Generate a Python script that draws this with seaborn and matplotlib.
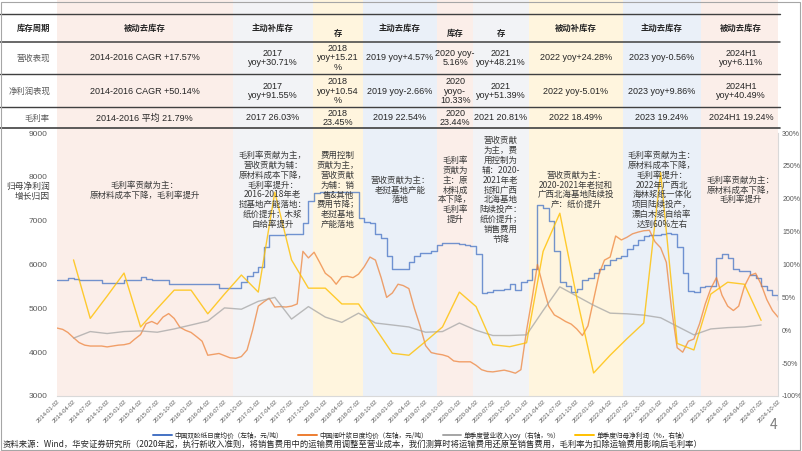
import numpy as np
import pandas as pd
import matplotlib.pyplot as plt
import matplotlib.dates as mdates
from matplotlib.patches import Rectangle
import seaborn as sns

# ── Data ───────────────────────────────────────────────
months = pd.date_range('2014-01-01', periods=130, freq='MS') + pd.Timedelta(days=1)
quarters = pd.date_range('2014-01-01', periods=44, freq='QS') + pd.Timedelta(days=1)
q_dates = quarters[1:43]

# 中国双胶纸日度均价 (元/吨), monthly reading
paper_price = [5650, 5650, 5690, 5670, 5650, 5650, 5650, 5650, 5580, 5580,
               5580, 5580, 5650, 5650, 5650, 5720, 5660, 5650, 5650, 5650,
               5550, 5550, 5550, 5550, 5550, 5550, 5550, 5550, 5550, 5460,
               5460, 5460, 5460, 5600, 5740, 5830, 5950, 6400, 6670, 6670,
               6680, 6690, 6700, 6700, 6950, 7450, 7620, 7650, 7650, 7650,
               7650, 7650, 7650, 7650, 7050, 6980, 6950, 6700, 6600, 6200,
               5900, 5900, 5900, 6050, 6200, 6260, 6260, 6300, 6450, 6490,
               6490, 6480, 6470, 6450, 6420, 6250, 5350, 5380, 5420, 5420,
               5450, 5550, 5420, 5600, 5650, 5900, 7350, 7300, 7000, 6300,
               5600, 5500, 5380, 5450, 5650, 5700, 5800, 5900, 6000, 6100,
               6150, 6200, 6350, 6450, 6550, 6650, 6680, 6680, 6700, 6720,
               6700, 6400, 5800, 5400, 5380, 5480, 5500, 5520, 6150, 6250,
               6150, 5900, 5850, 5850, 5750, 5700, 5500, 5420, 5300, 5200]

# 中国阔叶浆日度均价 (元/吨), monthly reading
pulp_price = [4550, 4520, 4450, 4330, 4220, 4160, 4140, 4140, 4140, 4120,
              4140, 4160, 4170, 4200, 4300, 4400, 4650, 4700, 4640, 4800,
              4880, 4770, 4570, 4500, 4450, 4350, 4250, 3930, 3950, 3970,
              3920, 3870, 3860, 3900, 4050, 4500, 5050, 5150, 5230, 5030,
              5040, 5030, 5050, 5100, 6300, 6150, 6280, 6050, 5800, 5700,
              5550, 5720, 5730, 5700, 5780, 5950, 6170, 6100, 5700, 5250,
              5350, 5550, 5520, 5450, 5000, 4600, 4150, 3990, 3960, 3940,
              3900, 3800, 3780, 3780, 3780, 3700, 3600, 3560, 3550, 3570,
              3590, 3560, 3520, 3600, 4500, 5250, 6000, 5500, 5050, 4850,
              4780, 4700, 4640, 4530, 4380, 4600, 5200, 5800, 6100, 6170,
              6650, 6560, 6620, 6700, 6740, 6770, 6780, 6520, 6380, 6050,
              5000, 4100, 4000, 4250, 4300, 4650, 5100, 5450, 5700, 5300,
              5050, 4950, 5050, 5500, 5750, 5800, 5550, 5200, 4950, 4800]

# 单季度营业收入yoy (%)
rev_yoy = [-12, -2, -5, -2, -1, -3, 2, 8, 14, 34, 32, 44, 50, 17, 36,
           20, 12, 26, 11, 8, 5, -3, -2, 11, 0, -8, -8, -7, 30, 66,
           52, 38, 26, 25, 23, 19, 6, -7, 2, 4, 5, 8]

# 单季度归母净利润yoy (%)
np_yoy = [107, 18, 52, 87, 5, 33, 61, 61, 25, 55, 84, 58, 210, 107, 64,
          64, 40, 40, 3, -35, -38, -17, 5, 58, 36, -22, -25, -19, 120, 178,
          50, -65, -38, -13, 11, 240, -20, -30, 55, 73, 70, 15]

series_labels = ['中国双胶纸日度均价（左轴，元/吨）', '中国阔叶浆日度均价（左轴，元/吨）',
                 '单季度营业收入yoy（右轴，%）', '单季度归母净利润（%，右轴）']

# inventory-cycle phases (band edges)
band_edges = ['2014-01-02', '2016-08-15', '2017-10-28', '2018-07-25', '2019-09-03',
              '2020-03-17', '2021-01-13', '2022-06-13', '2023-08-07', '2024-10-20']
PINK, GREY, YEL, BLUE = '#FBEEE9', '#F2F3F6', '#FFF5DE', '#EAF0F8'
band_colors = [PINK, GREY, YEL, BLUE, PINK, GREY, YEL, BLUE, PINK]

phase_names = ['被动去库存', '主动补库存', '存', '主动去库存', '库存', '存',
               '被动补库存', '主动去库存', '被动去库存']
row_names = ['营收表现', '净利润表现', '毛利率']
rev_text = ['2014-2016 CAGR +17.57%', '2017\nyoy+30.71%', '2018\nyoy+15.21\n%',
            '2019 yoy+4.57%', '2020 yoy-\n5.16%', '2021\nyoy+48.21%',
            '2022 yoy+24.28%', '2023 yoy-0.56%', '2024H1\nyoy+6.11%']
np_text = ['2014-2016 CAGR +50.14%', '2017\nyoy+91.55%', '2018\nyoy+10.54\n%',
           '2019 yoy-2.66%', '2020\nyoyo-\n10.33%', '2021\nyoy+51.39%',
           '2022 yoy-5.01%', '2023 yoy+9.86%', '2024H1\nyoy+40.49%']
gm_text = ['2014-2016 平均 21.79%', '2017 26.03%', '2018\n23.45%', '2019 22.54%',
           '2020\n23.44%', '2021 20.81%', '2022 18.49%', '2023 19.24%', '2024H1 19.24%']

notes = ['毛利率贡献为主：\n原材料成本下降，毛利率提升',
         '毛利率贡献为主，\n营收贡献为辅：\n原材料成本下降，\n毛利率提升：\n2016-2018年老\n挝基地产能落地：\n纸价提升；木浆\n自给率提升',
         '费用控制\n贡献为主，\n营收贡献\n为辅：销\n售&其他\n费用节降；\n老挝基地\n产能落地',
         '营收贡献为主：\n老挝基地产能\n落地',
         '毛利率\n贡献为\n主：原\n材料成\n本下降，\n毛利率\n提升',
         '营收贡献\n为主，费\n用控制为\n辅：2020-\n2021年老\n挝和广西\n北海基地\n陆续投产：\n纸价提升；\n销售费用\n节降',
         '营收贡献为主：\n2020-2021年老挝和\n广西北海基地陆续投\n产：纸价提升',
         '毛利率贡献为主：\n原材料成本下降，\n毛利率提升：\n2022年广西北\n海林浆纸一体化\n项目陆续投产，\n漂白木浆自给率\n达到60%左右',
         '毛利率贡献为主：\n原材料成本下降，\n毛利率提升']

# ── Figure ─────────────────────────────────────────────
sns.set_style('white')
plt.rcParams['font.family'] = ['Noto Sans CJK SC', 'DejaVu Sans']
plt.rcParams['axes.unicode_minus'] = False
NUM_FONT = ['Liberation Sans', 'Noto Sans CJK SC']

W, H = 802, 451
fig = plt.figure(figsize=(W / 100, H / 100), dpi=100)
ax = fig.add_axes([57 / W, 1 - 396 / H, 721 / W, 263 / H])
ax2 = ax.twinx()
tab = fig.add_axes([57 / W, 1 - 133 / H, 721 / W, 133 / H], zorder=-1)

sns.lineplot(x=months, y=paper_price, ax=ax, color='#4472C4', lw=1.0, alpha=0.75,
             drawstyle='steps-post', label=series_labels[0])
sns.lineplot(x=months, y=pulp_price, ax=ax, color='#ED7D31', lw=1.0, alpha=0.7,
             label=series_labels[1])
sns.lineplot(x=q_dates, y=rev_yoy, ax=ax2, color='#A5A5A5', lw=1.0, alpha=0.75,
             label=series_labels[2])
sns.lineplot(x=q_dates, y=np_yoy, ax=ax2, color='#FFC000', lw=1.0, alpha=0.8,
             label=series_labels[3])

edges = mdates.date2num(pd.to_datetime(band_edges))
x0, x1 = mdates.date2num(quarters[0]), mdates.date2num(quarters[-1])
mids = (edges[:-1] + edges[1:]) / 2

for a in (ax, tab):
    for i, c in enumerate(band_colors):
        a.axvspan(edges[i], edges[i + 1], color=c, lw=0, zorder=0)
    a.set_xlim(x0, x1)

# axes styling
ax.set_ylim(3000, 9000)
ax.set_yticks(range(3000, 9001, 1000))
ax2.set_ylim(-100, 300)
ax2.set_yticks(range(-100, 301, 50))
ax2.set_yticklabels([f'{v}%' for v in range(-100, 301, 50)])
ax.set_xticks(mdates.date2num(quarters))
ax.set_xticklabels([d.strftime('%Y-%m-%d') for d in quarters], rotation=45,
                   ha='right', rotation_mode='anchor', fontsize=4.2, color='#595959',
                   family=NUM_FONT)
ax.tick_params(axis='x', length=0, pad=2)
ax.tick_params(axis='y', length=0, pad=7, labelsize=6, labelcolor='#595959')
ax2.tick_params(axis='y', length=0, pad=3, labelsize=5, labelcolor='#595959')
for lab in ax.get_yticklabels() + ax2.get_yticklabels():
    lab.set_family(NUM_FONT)
ax.set_xlabel('')
ax.set_ylabel('')
ax2.set_ylabel('')
for s in ['top', 'left', 'right']:
    ax.spines[s].set_visible(False)
for s in ['top', 'left', 'bottom']:
    ax2.spines[s].set_visible(False)
ax.spines['bottom'].set_color('#D9D9D9')
ax2.spines['right'].set_color('#D9D9D9')
ax.grid(False)
ax2.grid(False)

ax.text(-7 / 721, (396 - 191) / 263, '归母净利润\n增长归因', transform=ax.transAxes,
        ha='right', va='center', multialignment='right', fontsize=6.3,
        color='#404040', linespacing=1.1)

# annotations
for xm, txt in zip(mids, notes):
    ax2.text(xm, (396 - 190) / 263, txt, transform=ax2.get_xaxis_transform(),
             ha='center', va='center', fontsize=6.1, color='#3A3A3A',
             linespacing=1.12, zorder=10)

# ── Table ──────────────────────────────────────────────
tab.set_ylim(133, 0)
tab.axis('off')
for y, lw in [(14, 1.0), (42, 1.1), (74, 1.0), (107, 1.0), (128, 1.2)]:
    tab.plot([-57 / 721, 723 / 721], [y, y], transform=tab.get_yaxis_transform(),
             color='#404040', lw=lw, clip_on=False)

tab.text(-7 / 721, 28, '库存周期', transform=tab.get_yaxis_transform(), ha='right',
         va='center', fontsize=6, fontweight='bold', color='#262626')
for y, name in zip([58, 91, 118], row_names):
    tab.text(-7 / 721, y, name, transform=tab.get_yaxis_transform(), ha='right',
             va='center', fontsize=6, color='#595959')

for i, (xm, name) in enumerate(zip(mids, phase_names)):
    yh = 33 if name in ('存', '库存') else 28
    tab.text(xm, yh, name, ha='center', va='center', fontsize=6,
             fontweight='bold', color='#262626')
    for y, col in zip([58, 91, 118], [rev_text, np_text, gm_text]):
        tab.text(xm, y, col[i], ha='center', va='center', fontsize=6.5,
                 color='#262626', family=NUM_FONT, linespacing=1.05)

# ── Legend, footer, frame ──────────────────────────────
handles, labels = [], []
for a in (ax, ax2):
    h, l = a.get_legend_handles_labels()
    handles += h
    labels += l
    if a.get_legend() is not None:
        a.get_legend().remove()
leg = fig.legend(handles, labels, loc='center', bbox_to_anchor=(0.525, 1 - 435.5 / H),
                 ncol=4, frameon=False, fontsize=4.8, handlelength=2.8,
                 columnspacing=2.2, handletextpad=0.4, borderpad=0.1)
for h in leg.legend_handles:
    h.set_alpha(1)
    h.set_linewidth(1.4)

fig.text(3 / W, 1 - 444.5 / H,
         '资料来源：Wind，华安证券研究所（2020年起，执行新收入准则，将销售费用中的运输费用调整至营业成本，'
         '我们测算时将运输费用还原至销售费用，毛利率为扣除运输费用影响后毛利率）',
         fontsize=6.0, va='center', color='#262626')
fig.text(770 / W, 1 - 425 / H, '4', fontsize=10, color='#7F7F7F', va='center')
fig.patches.append(Rectangle((1 / W, 1 / H), 799 / W, 448 / H, transform=fig.transFigure,
                             fill=False, ec='#A6A6A6', lw=0.8))

fig.savefig('out.png', dpi=100)
